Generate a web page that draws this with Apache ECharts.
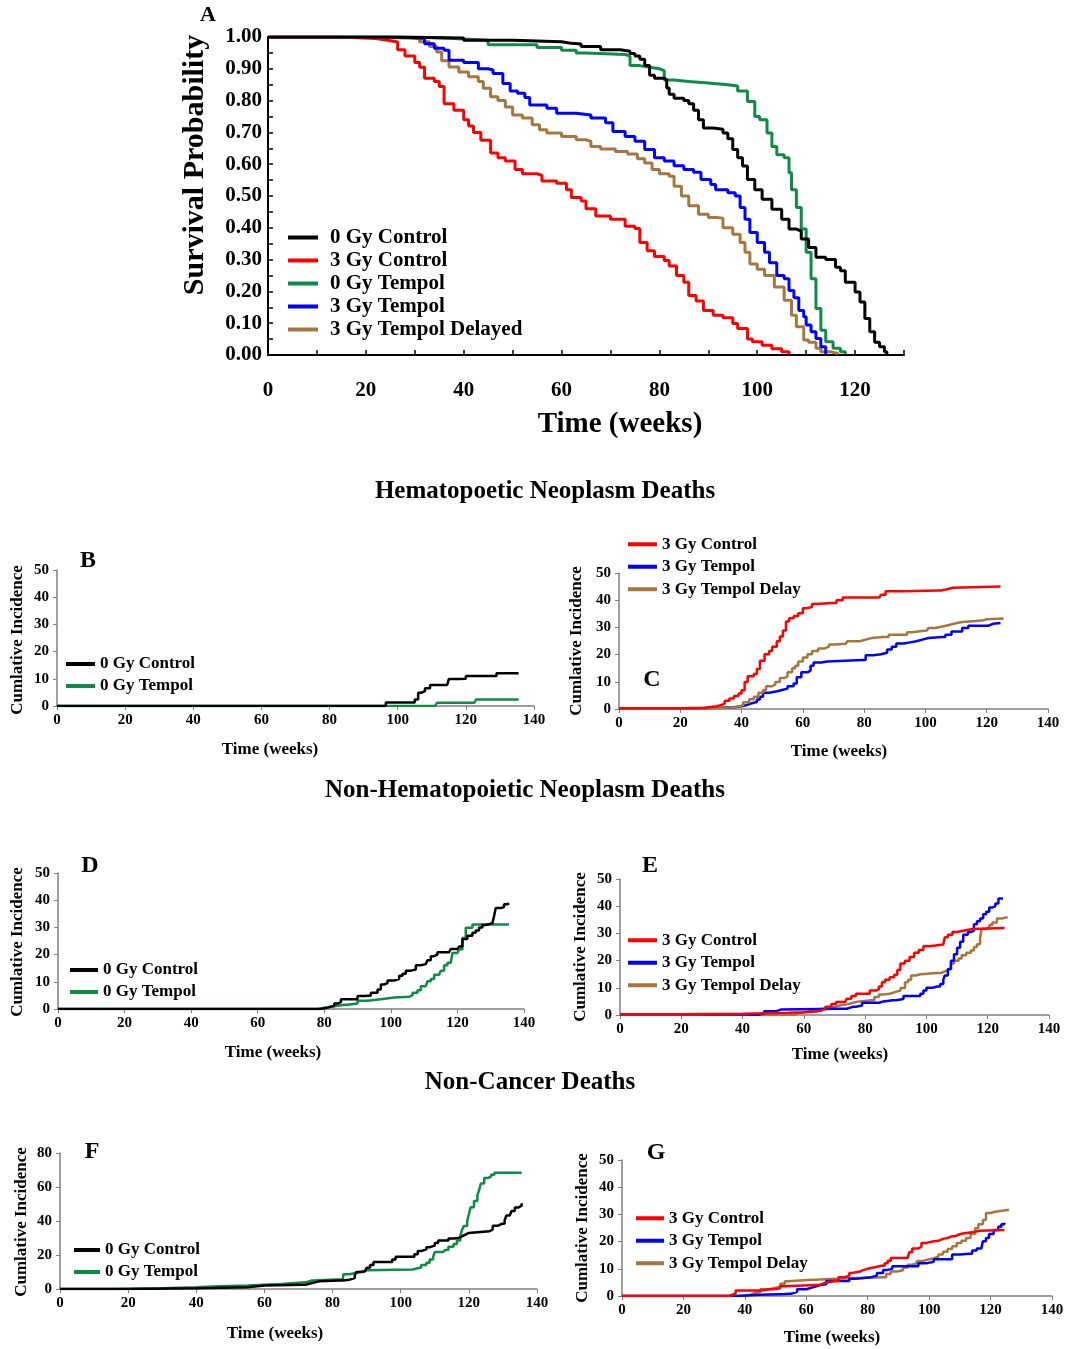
<!DOCTYPE html>
<html>
<head>
<meta charset="utf-8">
<title>Survival and cumulative incidence</title>
<script src="https://cdn.jsdelivr.net/npm/echarts@6.0.0/dist/echarts.min.js"></script>
<style>
  html, body { margin: 0; padding: 0; background: #fff; }
  #chart { width: 1074px; height: 1349px; }
</style>
</head>
<body>
<div id="chart"></div>
<script>
// ---- panel A: survival probability, [week, probability]
const a0GyControl = [[0,1],[25,0.997],[40,0.99],[50,0.985],[60,0.98],[62,0.978],[64,0.97],[68,0.96],[72,0.955],[74,0.948],[75,0.94],[76,0.93],[77,0.91],[78,0.88],[79,0.87],[81,0.865],[81.5,0.84],[82,0.82],[83,0.807],[85,0.80],[86,0.79],[87,0.77],[88,0.74],[89,0.714],[91,0.71],[93,0.698],[94,0.68],[95,0.646],[96,0.62],[97,0.594],[98,0.552],[99.5,0.52],[101,0.49],[103,0.458],[105,0.427],[106.5,0.396],[108,0.39],[109,0.365],[110.5,0.338],[112,0.307],[114,0.30],[116,0.276],[117,0.265],[118,0.229],[120,0.198],[121,0.167],[122,0.115],[123,0.073],[124,0.04],[125,0.026],[126,0.01],[126.5,0.003]];
const a3GyControl = [[0,1],[15,0.995],[22,0.99],[24.5,0.984],[26.5,0.96],[28,0.94],[30,0.92],[31,0.905],[32,0.87],[34,0.86],[35,0.844],[36,0.79],[38,0.77],[40,0.74],[41,0.72],[42,0.70],[43.5,0.675],[45.5,0.635],[47,0.62],[48.5,0.61],[50.5,0.583],[52,0.57],[55,0.565],[56,0.547],[59,0.54],[61,0.52],[62,0.495],[64,0.484],[65,0.46],[67,0.437],[70,0.427],[73,0.405],[75,0.398],[76,0.354],[77.5,0.328],[79,0.31],[81,0.297],[82,0.28],[83.5,0.25],[85,0.229],[86,0.1875],[87.5,0.17],[89,0.14],[91,0.125],[93,0.117],[95,0.099],[96,0.083],[98,0.05],[99,0.042],[101,0.031],[103,0.02],[105,0.01],[106.5,0.002]];
const a0GyTempol = [[0,1],[30,0.995],[38,0.99],[45,0.976],[55,0.967],[60,0.958],[63,0.95],[65,0.945],[73,0.94],[74,0.91],[76,0.905],[78,0.90],[80,0.894],[81,0.865],[83,0.86],[86,0.855],[90,0.85],[94,0.846],[96,0.83],[98,0.797],[99.5,0.75],[100.5,0.74],[102,0.698],[103,0.656],[104,0.63],[105.5,0.62],[106.5,0.573],[107,0.52],[108,0.464],[109,0.396],[110,0.323],[111,0.24],[112,0.146],[113,0.078],[114,0.042],[115.5,0.021],[117,0.01],[118,0.003]];
const a3GyTempol = [[0,1],[27,0.998],[30,0.995],[32,0.979],[34,0.965],[36,0.958],[37,0.927],[40,0.92],[43,0.90],[45,0.896],[46,0.885],[48,0.854],[49.5,0.83],[51,0.823],[52.5,0.81],[53.5,0.786],[57,0.776],[59,0.76],[63,0.755],[66,0.745],[69,0.73],[70.5,0.703],[73,0.6875],[75,0.672],[77,0.646],[79,0.62],[81,0.61],[83,0.595],[85,0.583],[87,0.575],[88.5,0.552],[90.5,0.536],[91.5,0.52],[94,0.51],[95.5,0.50],[96.5,0.464],[97.5,0.427],[98.5,0.385],[100,0.354],[101.5,0.323],[102.5,0.29],[104,0.25],[105.5,0.24],[106.5,0.203],[107.5,0.18],[108.5,0.14],[109.5,0.12],[110,0.094],[111,0.073],[112,0.052],[113,0.026],[114,0.003]];
const a3GyTempolDelayed = [[0,1],[20,0.997],[28,0.995],[31,0.985],[33,0.97],[34.5,0.953],[35.5,0.925],[37,0.906],[39,0.89],[41,0.875],[43,0.86],[44,0.839],[45.5,0.8125],[47,0.80],[48.5,0.78],[50,0.755],[52,0.745],[54,0.724],[55.5,0.708],[57,0.698],[60,0.6875],[63,0.677],[65,0.672],[66,0.656],[68,0.648],[71,0.64],[73.5,0.632],[75.5,0.617],[77,0.604],[78.5,0.583],[80,0.57],[82,0.5625],[83,0.531],[84.5,0.50],[86,0.469],[88,0.443],[90,0.432],[92,0.43],[93,0.40],[95,0.38],[96.5,0.354],[97.5,0.323],[98.5,0.286],[100,0.27],[101.5,0.25],[103.5,0.2135],[105.5,0.172],[107,0.125],[108,0.089],[109.5,0.047],[110.5,0.04],[112,0.021],[113,0.01],[115,0.005],[116.5,0.002]];

// ---- panel B: hematopoietic, 0 Gy
const b0GyControl = [[0,0],[94.5,0],[96.5,1.3],[104,1.3],[105,2.4],[106,4.9],[107,5.5],[108,6.5],[109.5,7.7],[114.5,7.7],[115,9.9],[118,10],[120,11],[128,11],[129,12],[135.5,12]];
const b0GyTempol = [[0,0],[111,0],[111.5,1.2],[122.5,1.2],[123,2.4],[135.5,2.4]];

// ---- panel C: hematopoietic, 3 Gy
const c3GyControl = [[0,0.3],[20,0.5],[28,1],[32,1.5],[33.5,2],[34.5,3],[36,3.9],[37.5,4.8],[39,5.7],[40,6.9],[41,9.9],[42,12],[44,12.9],[45,14.7],[46,17.7],[47.5,20.1],[49,21.3],[50,22.9],[51.5,24.9],[52.5,26.7],[53.5,28.9],[54.5,32.2],[55.5,33.4],[57,34.2],[58.5,35.2],[60,37],[61,37.5],[63,38.6],[64.5,39],[69.5,39],[71,40],[73,41],[85,41],[85.5,42],[87,43.3],[92,43.3],[93,43.6],[104,43.6],[105,44],[107,44.6],[109,45],[124.5,45]];
const c3GyTempol = [[0,0.3],[25,0.5],[33,0.7],[38,1],[40,1.4],[41.5,2],[43,2.6],[45,3.5],[46,4.5],[47,6],[49,6.6],[52,7.1],[53.5,7.5],[55,8.4],[57,9.4],[58,11.7],[59.5,13.5],[61.5,14.1],[62.5,15.9],[63.5,17.1],[66,17.5],[68,18],[79.5,18],[80.5,19.8],[83,20.1],[85.5,20.7],[87.5,21.9],[89,22.9],[90.5,24.1],[93,24.5],[95,24.9],[97,25.5],[99,26.1],[101,26.5],[105.5,26.5],[106.5,27.3],[108.5,28.5],[111,28.5],[112,29.8],[114,30.6],[118.5,30.6],[120.5,31.3],[122,31.6],[124.5,31.6]];
const c3GyTempolDelay = [[0,0.3],[30,0.5],[35,0.8],[38.5,1.4],[40.5,2.5],[42.5,3.6],[44,4.5],[45.5,6],[47,7],[48,8.4],[50,9],[51,9.9],[52.5,11.4],[54,12],[55,13.5],[56.5,15],[57.5,15.9],[58.5,17.5],[60,18.9],[61.5,20.1],[63,21.3],[65,22.2],[67,22.9],[68.5,23.7],[70.5,24],[74,24],[74.5,24.9],[77,24.9],[78.5,25.5],[80.5,26.1],[82.5,26.5],[86,26.5],[88,27.3],[92,27.3],[94,28.2],[95.5,28.5],[97.5,28.9],[100.5,28.9],[101,29.8],[103,30.4],[106,31],[108,31.5],[110,32],[112,32.5],[118.5,33],[120,33.3],[125.5,33.3]];

// ---- panel D: non-hematopoietic, 0 Gy
const d0GyControl = [[0,0],[75,0],[79,0.5],[81,1.2],[83,2],[84,2.5],[85,3.6],[89,3.6],[90,4.8],[92,5],[94,6],[96,7.2],[97,9],[98,9.5],[99,10.5],[101,11],[102.5,12.2],[103.5,13],[104.5,14.1],[106,14.5],[107.5,16.1],[109,16.5],[110.5,16.5],[111,17.9],[112,19.4],[113,20],[114,20.9],[117.5,20.9],[118,22.1],[120,22.1],[120.5,23],[121.5,25.7],[123,26.9],[124.5,28],[125.5,28.9],[126.5,30],[127.5,30.9],[128.5,31.5],[130.5,31.5],[131,34.1],[131.5,37.1],[133,37.5],[134,38.5],[135,38.5],[135.5,38.9]];
const d0GyTempol = [[0,0],[76,0],[78,0.5],[80,1],[83,1.6],[86,1.6],[87,2],[90,3],[93,3.6],[97,4.2],[101,4.5],[105.5,5.1],[106.5,6],[108,6.9],[109,8.4],[110.5,8.4],[111,10.2],[112,11],[113,12.6],[114.5,12.6],[115,14.1],[116,16.1],[117,17],[118,17.5],[118.5,20.6],[120,20.6],[120.5,22],[121.5,26.1],[122.5,29.9],[124.5,31.1],[135.5,31.1]];

// ---- panel E: non-hematopoietic, 3 Gy
const e3GyControl = [[0,0.3],[20,0.5],[40,0.8],[55,1],[60,1.3],[64,1.6],[65.5,2.2],[67,3],[69,4],[70.5,4.8],[73.5,4.8],[74,6],[75.5,7],[77,7.8],[80,7.8],[81.5,9],[83.5,9.5],[84.5,10.5],[85.5,12],[86.5,13],[88,13.9],[89.5,14.8],[90.5,16.5],[91.5,18.9],[93,19.9],[94.5,21.3],[96,22.9],[97.5,23.9],[99,25.3],[101,25.9],[105.5,25.9],[106,28.6],[107,29.5],[108.5,30.5],[110,31],[112,31.6],[115,32],[125.5,32]];
const e3GyTempol = [[0,0.3],[20,0.2],[42,0.1],[45,0.5],[47,1.4],[51,2],[52.5,2.3],[72,2.3],[74,3],[76,3],[77,3.5],[79,4.5],[83,4.5],[84.5,5],[86,5.4],[89,5.4],[90,5.9],[92.5,7],[97,7],[98,7.8],[99,9],[100,10],[102,10.5],[103.5,10.5],[104.5,11.4],[105.5,13],[106,14.5],[106.5,14.5],[107,16.9],[108,19.9],[109,22.3],[110,24.7],[111,26.9],[112,29.5],[113.5,30.5],[114.5,31],[115.5,33.4],[116.5,34.5],[117.5,35.5],[118.5,37],[119.5,38],[120.5,39.5],[121.5,40],[122.5,41],[123.5,42.8],[125,42.8]];
const e3GyTempolDelay = [[0,0],[56,0],[57,0.5],[58,1],[60,1.5],[63,2],[64,2.5],[68,3],[70,3.6],[72,4],[74.5,4.5],[76,5],[78,5.4],[82,5.4],[83,6.6],[84.5,7.5],[86,7.8],[88,8.5],[90,9],[91.5,9.9],[93,12],[94,13],[95,14.5],[96.5,15],[98,15.4],[103.5,15.4],[104.5,16],[106,16.5],[107,17],[108,18.9],[109,19.9],[110.5,20.8],[111.5,22],[113,22.9],[114.5,23.7],[115.5,25],[116.5,26],[117.5,28.1],[118,31.6],[119,32],[120.5,33.1],[121.5,34],[123,35.5],[124.5,35.9],[126.5,35.9]];

// ---- panel F: non-cancer, 0 Gy
const f0GyControl = [[0,0],[20,0.5],[40,1],[55,2],[60,2.5],[71,2.5],[72,3.5],[74,4.5],[76,5],[82,5],[83,5.5],[85,6.5],[86.5,7.8],[87,10],[88,10.5],[89.5,11],[90,12.5],[91,14.1],[92,15.9],[96.5,15.9],[97.5,17.4],[98.5,19],[103,19],[104,20.5],[105,22.3],[106,23.3],[107.5,24.6],[108.5,25.5],[110,27.1],[111,28.5],[113,28.5],[114,29.7],[115.5,30],[117,31],[118,32],[119,33],[120,33.9],[126,33.9],[126.5,35],[127,37.2],[128.5,38.2],[129.5,38.5],[130.5,40.3],[131,43.2],[132,43.5],[132.5,45.9],[133.5,47.9],[134.5,49],[135.5,50.4]];
const f0GyTempol = [[0,0],[15,0.5],[30,1],[40,1.5],[45,2],[55,3],[65,3.9],[72,5],[74,5.8],[83,5.8],[83.2,8.7],[85,9.5],[87,10],[88,10],[89,11],[90,11.5],[103.5,11.5],[104,12.6],[106,14.1],[107.5,15.5],[108.5,17.4],[109.5,19],[110,21.7],[112.5,21.7],[113,23],[114,24.8],[115.5,26.5],[116.5,28.5],[117.5,31],[118,34.9],[118.5,37],[119.5,40.1],[120,44],[120.5,48.1],[121.5,51.7],[122.5,55.2],[123,58.1],[123.5,62],[124.5,65.3],[125.5,66],[126.5,67.2],[127.5,68.4],[135.5,68.4]];

// ---- panel G: non-cancer, 3 Gy
const g3GyControl = [[0,0],[34,0],[35,0.5],[36,1],[37,2],[44,2],[45.5,2.5],[48,2.5],[49.5,2.8],[51.5,3.6],[53,4],[63,4],[64,4.5],[65.5,5],[66.5,5.5],[69.5,5.5],[70.5,6.9],[72.5,7.5],[74,8.5],[75,9],[77.5,9.5],[78.5,10],[80,10.5],[82,11.1],[84.5,11.1],[85.5,12],[86.5,13],[87.5,14],[92,14],[93,14.5],[93.5,16.1],[94.5,17.5],[96.5,18.1],[97.5,19.5],[99,20],[101,20.3],[103,21],[104.5,21.3],[106,22],[107.5,22],[108.5,22.5],[109.5,23],[111,23.4],[114,24],[116.5,24.3],[124.5,24.3]];
const g3GyTempol = [[0,0],[37,0],[37.5,0.5],[45,0.7],[53,0.8],[55,1.5],[57,2.5],[60,3],[61.5,3.5],[63,4],[64.5,4.3],[66.5,5.5],[73,5.5],[74,6.3],[76,6.5],[78,6.9],[81,7.5],[83,8.5],[85,9.6],[86.5,10],[88,10.9],[95,10.9],[96.5,12],[99,12.6],[101.5,13.5],[106.5,13.5],[107.5,15.3],[110,15.5],[113,15.5],[114,16.7],[115.5,17.5],[117,17.5],[117.5,20.1],[118.5,21.3],[119.5,22.8],[121,24.3],[122.5,25.5],[123.5,26.4],[124.5,26.9]];
const g3GyTempolDelay = [[0,0],[40,0],[40.5,0.5],[42,1.1],[43,1.5],[45,2.5],[48,3],[50,3.5],[51.5,4.5],[53,5.4],[54,6],[62,6],[63,6.5],[73,6.5],[74,6.9],[85,6.9],[86,8.1],[87.5,9],[89.5,9.5],[91.5,10.5],[93,11.5],[94.5,12],[96,12.9],[98,13.5],[100,13.9],[101.5,14.5],[103,15.3],[104.5,16.3],[106,17.3],[107.5,18.3],[109,19.5],[110.5,20.3],[112,21.3],[113.5,22.8],[115,24.9],[116,26.4],[117.5,27.9],[118.5,30.5],[120,31],[121.5,31.7],[126,31.7]];

const FONT = '"Liberation Serif", "Times New Roman", serif';
const BLACK = '#000000', RED = '#ff0000', GREEN = '#0e8c47', BLUE = '#0000ff', BROWN = '#a6763f';

const chart = echarts.init(document.getElementById('chart'));

const line = (name, data, color, idx, w) => ({
  name, type: 'line', data, step: 'end', showSymbol: false, symbol: 'none',
  xAxisIndex: idx, yAxisIndex: idx,
  lineStyle: { color, width: w }, itemStyle: { color },
  silent: true
});

const lbl = (size) => ({ fontSize: size, fontWeight: 'bold', fontFamily: FONT, color: '#000' });

// lower panel axes
const lowerX = (i) => ({
  gridIndex: i, type: 'value', min: 0, max: 140, interval: 20,
  axisLine: { show: true, lineStyle: { color: '#808080', width: 1.5 } },
  axisTick: { show: true, length: 4, lineStyle: { color: '#808080' } },
  axisLabel: Object.assign({ margin: 7 }, lbl(15)),
  splitLine: { show: false }
});
const lowerY = (i, max, step) => ({
  gridIndex: i, type: 'value', min: 0, max: max, interval: step,
  axisLine: { show: true, lineStyle: { color: '#808080', width: 1.5 } },
  axisTick: { show: true, length: 4, lineStyle: { color: '#808080' } },
  axisLabel: Object.assign({ margin: 8 }, lbl(15)),
  splitLine: { show: false }
});

const legendBox = (names, left, top, size, gap, w, pad) => ({
  data: names, orient: 'vertical', left, top, padding: 0,
  icon: 'rect', itemWidth: w, itemHeight: 4, itemGap: 0,
  selectedMode: false,
  textStyle: Object.assign({ lineHeight: gap, padding: [0, 0, 0, pad] }, lbl(size))
});

const txt = (text, x, y, size, rot) => ({
  type: 'text', x, y, rotation: rot || 0,
  style: { text, fill: '#000', fontSize: size, fontWeight: 'bold', fontFamily: FONT, textAlign: 'center', textVerticalAlign: 'middle' }
});

const option = {
  animation: false,
  backgroundColor: '#fff',
  grid: [
    { left: 268, top: 37, width: 636, height: 318 },
    { left: 57, top: 570, width: 477, height: 136 },
    { left: 619, top: 573, width: 429, height: 136 },
    { left: 58, top: 873, width: 466, height: 136 },
    { left: 620, top: 879, width: 429, height: 136 },
    { left: 60, top: 1153, width: 477, height: 136 },
    { left: 622, top: 1160, width: 430, height: 136 }
  ],
  xAxis: [
    {
      gridIndex: 0, type: 'value', min: 0, max: 130, interval: 10,
      axisLine: { show: true, lineStyle: { color: '#000', width: 2 } },
      axisTick: { show: true, inside: true, length: 5, lineStyle: { color: '#000', width: 1.5 } },
      axisLabel: Object.assign({ margin: 25, formatter: (v) => (v % 20 === 0 && v <= 120 ? String(v) : '') }, lbl(21)),
      splitLine: { show: false }
    },
    lowerX(1), lowerX(2), lowerX(3), lowerX(4), lowerX(5), lowerX(6)
  ],
  yAxis: [
    {
      gridIndex: 0, type: 'value', min: 0, max: 1, interval: 0.1,
      axisLine: { show: true, lineStyle: { color: '#000', width: 2 } },
      axisTick: { show: true, inside: true, length: 5, lineStyle: { color: '#000', width: 1.5 } },
      minorTick: { show: true, splitNumber: 2, length: 5, lineStyle: { color: '#000', width: 1.5 } },
      axisLabel: Object.assign({ margin: 6, formatter: (v) => v.toFixed(2) }, lbl(21)),
      splitLine: { show: false }
    },
    lowerY(1, 50, 10), lowerY(2, 50, 10), lowerY(3, 50, 10),
    lowerY(4, 50, 10), lowerY(5, 80, 20), lowerY(6, 50, 10)
  ],
  legend: [
    legendBox(['0 Gy Control', '3 Gy Control', '0 Gy Tempol', '3 Gy Tempol', '3 Gy Tempol Delayed'], 288, 226, 21, 23, 30, 7),
    legendBox(['0 Gy Control', '0 Gy Tempol'], 66, 653, 17, 22, 29, 0),
    legendBox(['3 Gy Control', '3 Gy Tempol', '3 Gy Tempol Delay'], 628, 533, 17, 22.5, 29, 0),
    legendBox(['0 Gy Control', '0 Gy Tempol'], 70, 959, 17, 22, 28, 0),
    legendBox(['3 Gy Control', '3 Gy Tempol', '3 Gy Tempol Delay'], 628, 929, 17, 22.5, 29, 0),
    legendBox(['0 Gy Control', '0 Gy Tempol'], 74, 1239, 17, 22, 26, 0),
    legendBox(['3 Gy Control', '3 Gy Tempol', '3 Gy Tempol Delay'], 636, 1207, 17, 22.5, 28, 0)
  ],
  series: [
    line('3 Gy Tempol Delayed', a3GyTempolDelayed, BROWN, 0, 3),
    line('3 Gy Tempol', a3GyTempol, BLUE, 0, 3),
    line('0 Gy Tempol', a0GyTempol, GREEN, 0, 3),
    line('3 Gy Control', a3GyControl, RED, 0, 3),
    line('0 Gy Control', a0GyControl, BLACK, 0, 3),

    line('0 Gy Tempol', b0GyTempol, GREEN, 1, 2.5),
    line('0 Gy Control', b0GyControl, BLACK, 1, 2.5),

    line('3 Gy Tempol', c3GyTempol, BLUE, 2, 2.5),
    line('3 Gy Tempol Delay', c3GyTempolDelay, BROWN, 2, 2.5),
    line('3 Gy Control', c3GyControl, RED, 2, 2.5),

    line('0 Gy Tempol', d0GyTempol, GREEN, 3, 2.5),
    line('0 Gy Control', d0GyControl, BLACK, 3, 2.5),

    line('3 Gy Tempol Delay', e3GyTempolDelay, BROWN, 4, 2.5),
    line('3 Gy Tempol', e3GyTempol, BLUE, 4, 2.5),
    line('3 Gy Control', e3GyControl, RED, 4, 2.5),

    line('0 Gy Tempol', f0GyTempol, GREEN, 5, 2.5),
    line('0 Gy Control', f0GyControl, BLACK, 5, 2.5),

    line('3 Gy Tempol Delay', g3GyTempolDelay, BROWN, 6, 2.5),
    line('3 Gy Tempol', g3GyTempol, BLUE, 6, 2.5),
    line('3 Gy Control', g3GyControl, RED, 6, 2.5)
  ],
  graphic: [
    txt('A', 208, 15, 22),
    txt('Survival Probability', 195, 165, 30, Math.PI / 2),
    txt('Time (weeks)', 620, 425, 29),
    txt('Hematopoetic Neoplasm Deaths', 545, 492, 25),
    txt('B', 88, 561, 24),
    txt('C', 652, 680, 24),
    txt('Non-Hematopoietic Neoplasm Deaths', 525, 791, 25),
    txt('D', 90, 866, 24),
    txt('E', 650, 866, 24),
    txt('Non-Cancer Deaths', 530, 1083, 25),
    txt('F', 92, 1152, 24),
    txt('G', 656, 1153, 24),
    txt('Cumlative Incidence', 18, 640, 17, Math.PI / 2),
    txt('Cumlative Incidence', 577, 641, 17, Math.PI / 2),
    txt('Cumlative Incidence', 18, 942, 17, Math.PI / 2),
    txt('Cumlative Incidence', 581, 947, 17, Math.PI / 2),
    txt('Cumlative Incidence', 22, 1222, 17, Math.PI / 2),
    txt('Cumlative Incidence', 583, 1228, 17, Math.PI / 2),
    txt('Time (weeks)', 270, 750, 17),
    txt('Time (weeks)', 839, 752, 17),
    txt('Time (weeks)', 273, 1053, 17),
    txt('Time (weeks)', 840, 1055, 17),
    txt('Time (weeks)', 275, 1334, 17),
    txt('Time (weeks)', 832, 1338, 17)
  ]
};

chart.setOption(option);
</script>
</body>
</html>
